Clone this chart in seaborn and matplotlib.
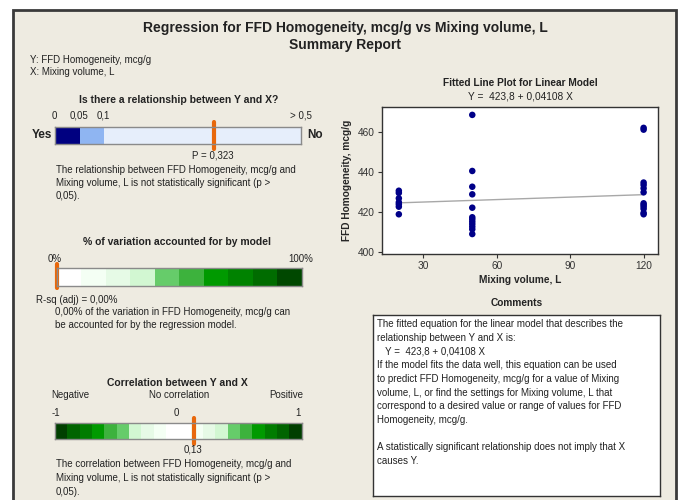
import numpy as np
import pandas as pd
import seaborn as sns
import matplotlib.pyplot as plt
from matplotlib.patches import Rectangle

# data
mixing_volume = [20, 20, 20, 20, 20, 20, 20,
                 50, 50, 50, 50, 50, 50, 50, 50, 50, 50, 50, 50,
                 120, 120, 120, 120, 120, 120, 120, 120, 120, 120, 120, 120]
homogeneity = [430.7, 429.6, 426.9, 424.9, 423.9, 422.7, 418.9,
               468.7, 440.6, 432.7, 428.9, 422.2, 417.4, 416.4, 415.2, 414.0, 412.7, 411.4, 409.0,
               462.2, 461.3, 434.8, 433.6, 431.9, 429.9, 424.4, 423.6, 422.7, 421.6, 419.6, 418.9]
intercept = 423.8
slope = 0.04108
p_value = 0.323
r_sq_adj = 0.00
correlation = 0.13

p_edges = [0, 0.05, 0.1, 0.5]
p_pos = [0, 0.1, 0.2, 1.0]          # the report's stretched p scale
p_colors = ['#000080', '#8FB5F2', '#E6EEFB']
p_labels = ['0', '0,05', '0,1', '> 0,5']

rsq_edges = [0, 10, 20, 30, 40, 50, 60, 70, 80, 90, 100]
rsq_colors = ['#FFFFFF', '#F4FFF4', '#E6FAE6', '#D2F7D2', '#66CC6A',
              '#3DB23D', '#009A00', '#008200', '#006C00', '#004800']

corr_edges = [-1, -0.9, -0.8, -0.7, -0.6, -0.5, -0.4, -0.3, -0.2, -0.1, 0,
              0.1, 0.2, 0.3, 0.4, 0.5, 0.6, 0.7, 0.8, 0.9, 1]
corr_colors = ['#003F00', '#006400', '#007C00', '#009A00', '#3DB23D', '#66CC6A',
               '#D2F7D2', '#E6FAE6', '#F4FFF4', '#FFFFFF',
               '#FFFFFF', '#F4FFF4', '#E6FAE6', '#D2F7D2', '#66CC6A',
               '#3DB23D', '#009A00', '#007C00', '#006400', '#003F00']

comment_lines = [
    'The fitted equation for the linear model that describes the',
    'relationship between Y and X is:',
    '   Y =  423,8 + 0,04108 X',
    'If the model fits the data well, this equation can be used',
    'to predict FFD Homogeneity, mcg/g for a value of Mixing',
    'volume, L, or find the settings for Mixing volume, L that',
    'correspond to a desired value or range of values for FFD',
    'Homogeneity, mcg/g.',
    '',
    'A statistically significant relationship does not imply that X',
    'causes Y.',
]

sns.set_theme(style='white')
plt.rcParams['font.family'] = ['Liberation Sans', 'DejaVu Sans']

W, H = 682, 500
BG = '#EEEBE1'
ORANGE = '#E8680C'
TXT = '#222222'
FS = 7
fig = plt.figure(figsize=(W / 100, H / 100), dpi=100, facecolor='white')

# report frame
fig.patches.append(Rectangle((13 / W, -0.05), (676 - 13) / W, 1.05 - 10 / H,
                             transform=fig.transFigure, facecolor=BG,
                             edgecolor='#3A3A3A', lw=2, zorder=-5))


def T(x, y, s, size=FS, **kw):
    kw.setdefault('va', 'center')
    kw.setdefault('color', TXT)
    fig.text(x / W, 1 - y / H, s, fontsize=size, **kw)


def ax_px(left, top, width, height):
    return fig.add_axes([left / W, 1 - (top + height) / H, width / W, height / H])


# header
T(345, 28, 'Regression for FFD Homogeneity, mcg/g vs Mixing volume, L', 10, weight='bold', ha='center')
T(345, 45, 'Summary Report', 10, weight='bold', ha='center')
T(30, 60, 'Y: FFD Homogeneity, mcg/g')
T(30, 72, 'X: Mixing volume, L')


def seg_bar(ax, edges, colors, lo, hi):
    lefts = edges[:-1]
    widths = np.diff(edges)
    ax.barh([0] * len(colors), widths, left=lefts, height=1, color=colors,
            edgecolor='none')
    ax.set_xlim(lo, hi)
    ax.set_ylim(-0.5, 0.5)
    ax.set_xticks([])
    ax.set_yticks([])
    for sp in ax.spines.values():
        sp.set_color('#8A8A8A')
        sp.set_linewidth(1)


# --- p-value bar
T(179, 100, 'Is there a relationship between Y and X?', 7.5, weight='bold', ha='center')
for px, lab in zip([54, 79, 103, 301], p_labels):
    T(px, 116, lab, ha='center')
ax_p = ax_px(55, 126.7, 246, 17.6)
seg_bar(ax_p, p_pos, p_colors, 0, 1)
p_mark = np.interp(p_value, p_edges, p_pos)
ax_p.axvline(p_mark, ymin=-0.28, ymax=1.28, color=ORANGE, lw=3, clip_on=False)
T(52, 135.5, 'Yes', 8.5, weight='bold', ha='right')
T(307, 135.5, 'No', 8.5, weight='bold', ha='left')
T(213, 155.7, 'P = ' + f'{p_value:.3f}'.replace('.', ','), ha='center')
T(55.7, 170, 'The relationship between FFD Homogeneity, mcg/g and')
T(55.7, 183, 'Mixing volume, L is not statistically significant (p >')
T(55.7, 196, '0,05).')

# --- R-sq bar
T(177, 242, '% of variation accounted for by model', 7.5, weight='bold', ha='center')
T(55, 259, '0%', ha='center')
T(301, 259, '100%', ha='center')
ax_r = ax_px(56.7, 268.3, 245, 17.7)
seg_bar(ax_r, rsq_edges, rsq_colors, 0, 100)
ax_r.axvline(r_sq_adj, ymin=-0.1, ymax=1.25, color=ORANGE, lw=3, clip_on=False)
T(36, 300, 'R-sq (adj) = ' + f'{r_sq_adj:.2f}'.replace('.', ',') + '%')
T(55, 311.7, '0,00% of the variation in FFD Homogeneity, mcg/g can')
T(55, 325, 'be accounted for by the regression model.')

# --- correlation bar
T(177, 382.7, 'Correlation between Y and X', 7.5, weight='bold', ha='center')
T(51.7, 395.3, 'Negative')
T(179, 395.3, 'No correlation', ha='center')
T(303.3, 395.3, 'Positive', ha='right')
T(51.7, 412.7, '-1')
T(176.7, 412.7, '0', ha='center')
T(301, 412.7, '1', ha='right')
ax_c = ax_px(55, 422.7, 246.7, 16.6)
seg_bar(ax_c, corr_edges, corr_colors, -1, 1)
ax_c.axvline(correlation, ymin=-0.3, ymax=1.3, color=ORANGE, lw=3, clip_on=False)
T(193.3, 450, f'{correlation:.2f}'.replace('.', ','), ha='center')
T(55.7, 464.3, 'The correlation between FFD Homogeneity, mcg/g and')
T(55.7, 478.3, 'Mixing volume, L is not statistically significant (p >')
T(55.7, 491.7, '0,05).')

# --- fitted line plot
T(520, 83.3, 'Fitted Line Plot for Linear Model', 7.3, weight='bold', ha='center')
T(520, 96.7, 'Y =  423,8 + 0,04108 X', 7.3, ha='center')
ax = ax_px(381.7, 107.3, 276.6, 146.7)
df = pd.DataFrame({'x': mixing_volume, 'y': homogeneity})
fit_x = [min(mixing_volume), max(mixing_volume)]
fit = pd.DataFrame({'x': fit_x, 'y': [intercept + slope * v for v in fit_x]})
sns.lineplot(data=fit, x='x', y='y', ax=ax, color='#A8A8A8', lw=1)
sns.scatterplot(data=df, x='x', y='y', ax=ax, color='#000088', s=22,
                edgecolor='none', zorder=3)
ax.set_xlim(13, 126)
ax.set_ylim(399, 472.5)
ax.set_xticks([30, 60, 90, 120])
ax.set_yticks([400, 420, 440, 460])
ax.tick_params(direction='out', length=3, width=0.8, labelsize=7.3,
               colors='#333333', bottom=True, left=True, pad=2)
ax.set_xlabel('Mixing volume, L', fontsize=7.3, weight='bold', labelpad=3)
ax.set_ylabel('FFD Homogeneity, mcg/g', fontsize=7.3, weight='bold', labelpad=4)
ax.set_facecolor('white')
for sp in ax.spines.values():
    sp.set_color('#333333')
    sp.set_linewidth(1)

# --- comments box
T(516.7, 303, 'Comments', 7.3, weight='bold', ha='center')
ax_t = ax_px(372.7, 315, 287.3, 181)
ax_t.set_xticks([])
ax_t.set_yticks([])
ax_t.set_facecolor('white')
for sp in ax_t.spines.values():
    sp.set_color('#333333')
    sp.set_linewidth(1)
for i, line in enumerate(comment_lines):
    T(376.7, 324 + i * 13.7, line)

fig.savefig('out.png', dpi=100, facecolor='white')
